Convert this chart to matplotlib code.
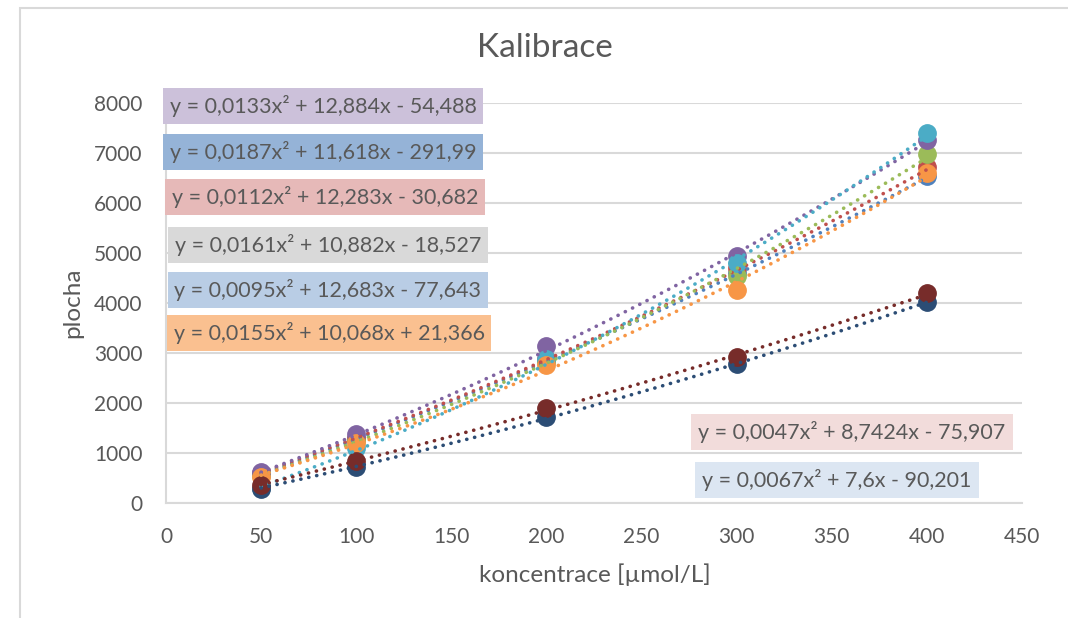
import numpy as np
import matplotlib
matplotlib.use("Agg")
import matplotlib.pyplot as plt
from matplotlib.patches import Rectangle

plt.rcParams["font.family"] = ["Lato", "DejaVu Sans"]

# concentrations [umol/L]
conc = [50, 100, 200, 300, 400]

# peak areas per series, in drawing order
area_s1 = [570, 1280, 2840, 4600, 6550]
area_s2 = [600, 1310, 2880, 4700, 6720]
area_s3 = [560, 1240, 2820, 4540, 6980]
area_s4 = [620, 1380, 3150, 4940, 7270]
area_s5 = [300, 1100, 2890, 4800, 7400]
area_s6 = [530, 1200, 2760, 4270, 6610]
area_s7 = [290, 720, 1730, 2780, 4020]
area_s8 = [370, 850, 1900, 2930, 4210]

# quadratic trendline coefficients (a, b, c) for y = a x^2 + b x + c
coef_s1 = [0.0095, 12.683, -77.643]
coef_s2 = [0.0112, 12.283, -30.682]
coef_s3 = [0.0161, 10.882, -18.527]
coef_s4 = [0.0133, 12.884, -54.488]
coef_s5 = [0.0187, 11.618, -291.99]
coef_s6 = [0.0155, 10.068, 21.366]
coef_s7 = [0.0067, 7.6, -90.201]
coef_s8 = [0.0047, 8.7424, -75.907]

areas = [area_s1, area_s2, area_s3, area_s4, area_s5, area_s6, area_s7, area_s8]
coefs = [coef_s1, coef_s2, coef_s3, coef_s4, coef_s5, coef_s6, coef_s7, coef_s8]
colors = ["#4F81BD", "#C0504D", "#9BBB59", "#8064A2",
          "#4BACC6", "#F79646", "#2C4D75", "#772C2A"]

x_ticks = [0, 50, 100, 150, 200, 250, 300, 350, 400, 450]
y_ticks = [0, 1000, 2000, 3000, 4000, 5000, 6000, 7000, 8000]

TXT = "#595959"
GRID = "#D9D9D9"
W, H = 1068, 618


def fx(px):
    return px / W


def fy(py):
    return 1 - py / H


def fmt_num(v, sign=False):
    s = f"{abs(v):g}".replace(".", ",")
    if sign:
        return ("- " if v < 0 else "+ ") + s
    return s


def equation(c):
    a, b, k = c
    return f"y = {fmt_num(a)}x² {fmt_num(b, True)}x {fmt_num(k, True)}"


fig = plt.figure(figsize=(W / 100, H / 100), dpi=100)

# outer chart border
fig.patches.append(Rectangle((fx(20), fy(700)), 2, fy(8) - fy(700),
                             transform=fig.transFigure, fill=False,
                             edgecolor=GRID, lw=1.5))

ax = fig.add_axes([fx(166), fy(503.3), fx(1022) - fx(166), fy(103.3) - fy(503.3)])
ax.set_xlim(0, 450)
ax.set_ylim(0, 8000)
ax.set_xticks(x_ticks)
ax.set_yticks(y_ticks)
ax.tick_params(length=0, labelsize=15, labelcolor=TXT)
ax.tick_params(axis="x", pad=17)
ax.tick_params(axis="y", pad=17)
ax.grid(axis="y", color=GRID, lw=1.5)
ax.set_axisbelow(True)
for side in ["top", "right"]:
    ax.spines[side].set_visible(False)
for side in ["left", "bottom"]:
    ax.spines[side].set_color(GRID)
    ax.spines[side].set_linewidth(1.5)

for ys, col in zip(areas, colors):
    ax.plot(conc, ys, "o", color=col, markersize=12.5, zorder=3)

xs = np.linspace(min(conc), max(conc), 200)
for c, col in zip(coefs, colors):
    ys = np.polyval(c, xs)
    ax.plot(xs, ys, color=col, lw=2.6, linestyle=(0, (0.05, 2.2)),
            dash_capstyle="round", zorder=4)

fig.text(fx(545), fy(48), "Kalibrace", ha="center", va="center",
         fontsize=24, color=TXT)
fig.text(fx(73), fy(303), "plocha", ha="center", va="center",
         rotation=90, fontsize=17.5, color=TXT)
fig.text(fx(595), fy(575), "koncentrace [µmol/L]", ha="center", va="center",
         fontsize=17.5, color=TXT)

# trendline equation labels: (series index, box colour, centre px)
labels = [
    (3, "#CCC1DA", (323, 106)),
    (4, "#95B3D7", (323, 152)),
    (1, "#E6B9B8", (325, 197)),
    (2, "#D9D9D9", (328, 245)),
    (0, "#B9CDE5", (328, 290)),
    (5, "#FAC090", (329, 333)),
    (7, "#F2DCDB", (852, 432)),
    (6, "#DCE6F2", (837, 480)),
]
for idx, bg, (cx, cy) in labels:
    fig.text(fx(cx), fy(cy), equation(coefs[idx]), ha="center", va="center",
             fontsize=15.5, color=TXT, zorder=5,
             bbox=dict(boxstyle="square,pad=0.32", fc=bg, ec="none"))

fig.savefig("out.png", dpi=100)
